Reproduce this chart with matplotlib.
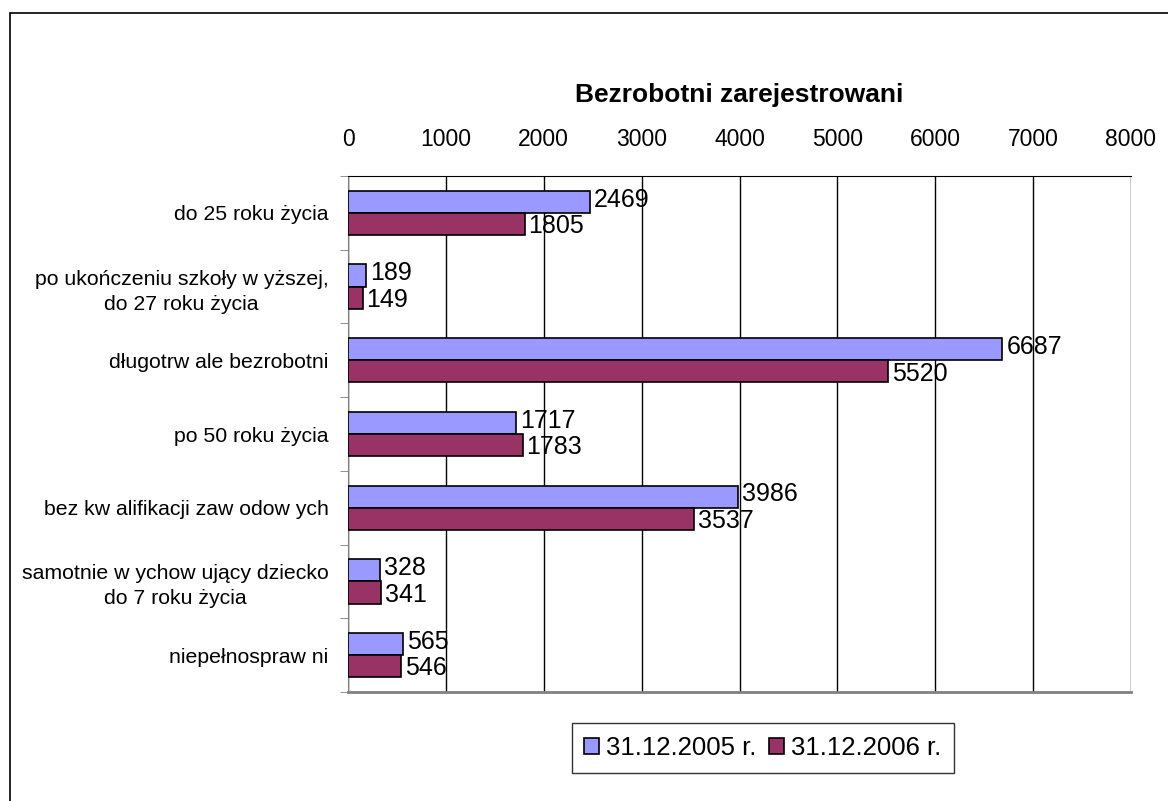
import numpy as np
import matplotlib.pyplot as plt
from matplotlib.patches import Rectangle

plt.rcParams['font.family'] = ['Liberation Sans', 'DejaVu Sans']

categories = ['do 25 roku życia',
              'po ukończeniu szkoły w yższej,\ndo 27 roku życia',
              'długotrw ale bezrobotni',
              'po 50 roku życia',
              'bez kw alifikacji zaw odow ych',
              'samotnie w ychow ujący dziecko\ndo 7 roku życia',
              'niepełnospraw ni']
vals_2005 = [2469, 189, 6687, 1717, 3986, 328, 565]
vals_2006 = [1805, 149, 5520, 1783, 3537, 341, 546]
series_names = ['31.12.2005 r.', '31.12.2006 r.']
colors = ['#9999FF', '#993366']

fig = plt.figure(figsize=(11.68, 8.01), dpi=100)
# outer chart frame
fig.patches.append(Rectangle((10 / 1168, -0.1), 1.2, (801 - 13) / 801 + 0.1,
                             transform=fig.transFigure, fill=False,
                             edgecolor='black', linewidth=1.2))

ax = fig.add_axes([348 / 1168, 1 - 692 / 801, (1131 - 348) / 1168, (692 - 176) / 801])

y = np.arange(len(categories))
h = 0.3
b1 = ax.barh(y - h / 2, vals_2005, height=h, color=colors[0], edgecolor='black',
             linewidth=1.2, label=series_names[0], zorder=3)
b2 = ax.barh(y + h / 2, vals_2006, height=h, color=colors[1], edgecolor='black',
             linewidth=1.2, label=series_names[1], zorder=3)

for bars, vals, dy in ((b1, vals_2005, -0.03), (b2, vals_2006, 0.03)):
    for rect, v in zip(bars, vals):
        ax.text(v + 40, rect.get_y() + rect.get_height() / 2 + dy, str(v),
                va='center', ha='left', fontsize=18, zorder=4)

ax.set_xlim(0, 8000)
ax.set_ylim(len(categories) - 0.5, -0.5)
ax.xaxis.tick_top()
ax.set_xticks(np.arange(0, 8001, 1000))
ax.tick_params(axis='x', length=0, labelsize=16.5, pad=18)
ax.grid(axis='x', color='black', linewidth=1, zorder=0)

ax.set_yticks(y)
ax.set_yticklabels(categories, fontsize=15.3, multialignment='center',
                   linespacing=1.4)
ax.set_yticks(np.arange(-0.5, len(categories)), minor=True)
ax.tick_params(axis='y', which='major', length=0, pad=14)
ax.tick_params(axis='y', which='minor', length=6, color='#808080', direction='out')

ax.spines['right'].set_visible(False)
ax.spines['bottom'].set_color('#808080')
ax.spines['bottom'].set_linewidth(2)
ax.spines['left'].set_color('#808080')
ax.spines['top'].set_color('black')

ax.set_title('Bezrobotni zarejestrowani', fontsize=19, fontweight='bold', pad=53)

leg = ax.legend(loc='center', bbox_to_anchor=(763 / 1168, 1 - 748 / 801),
                bbox_transform=fig.transFigure, ncol=2, fontsize=18.5,
                frameon=True, fancybox=False, edgecolor='black',
                handlelength=0.55, handleheight=0.55, handletextpad=0.3,
                columnspacing=0.5, borderpad=0.5)
leg.get_frame().set_linewidth(1)

fig.savefig('out.png', dpi=100)
